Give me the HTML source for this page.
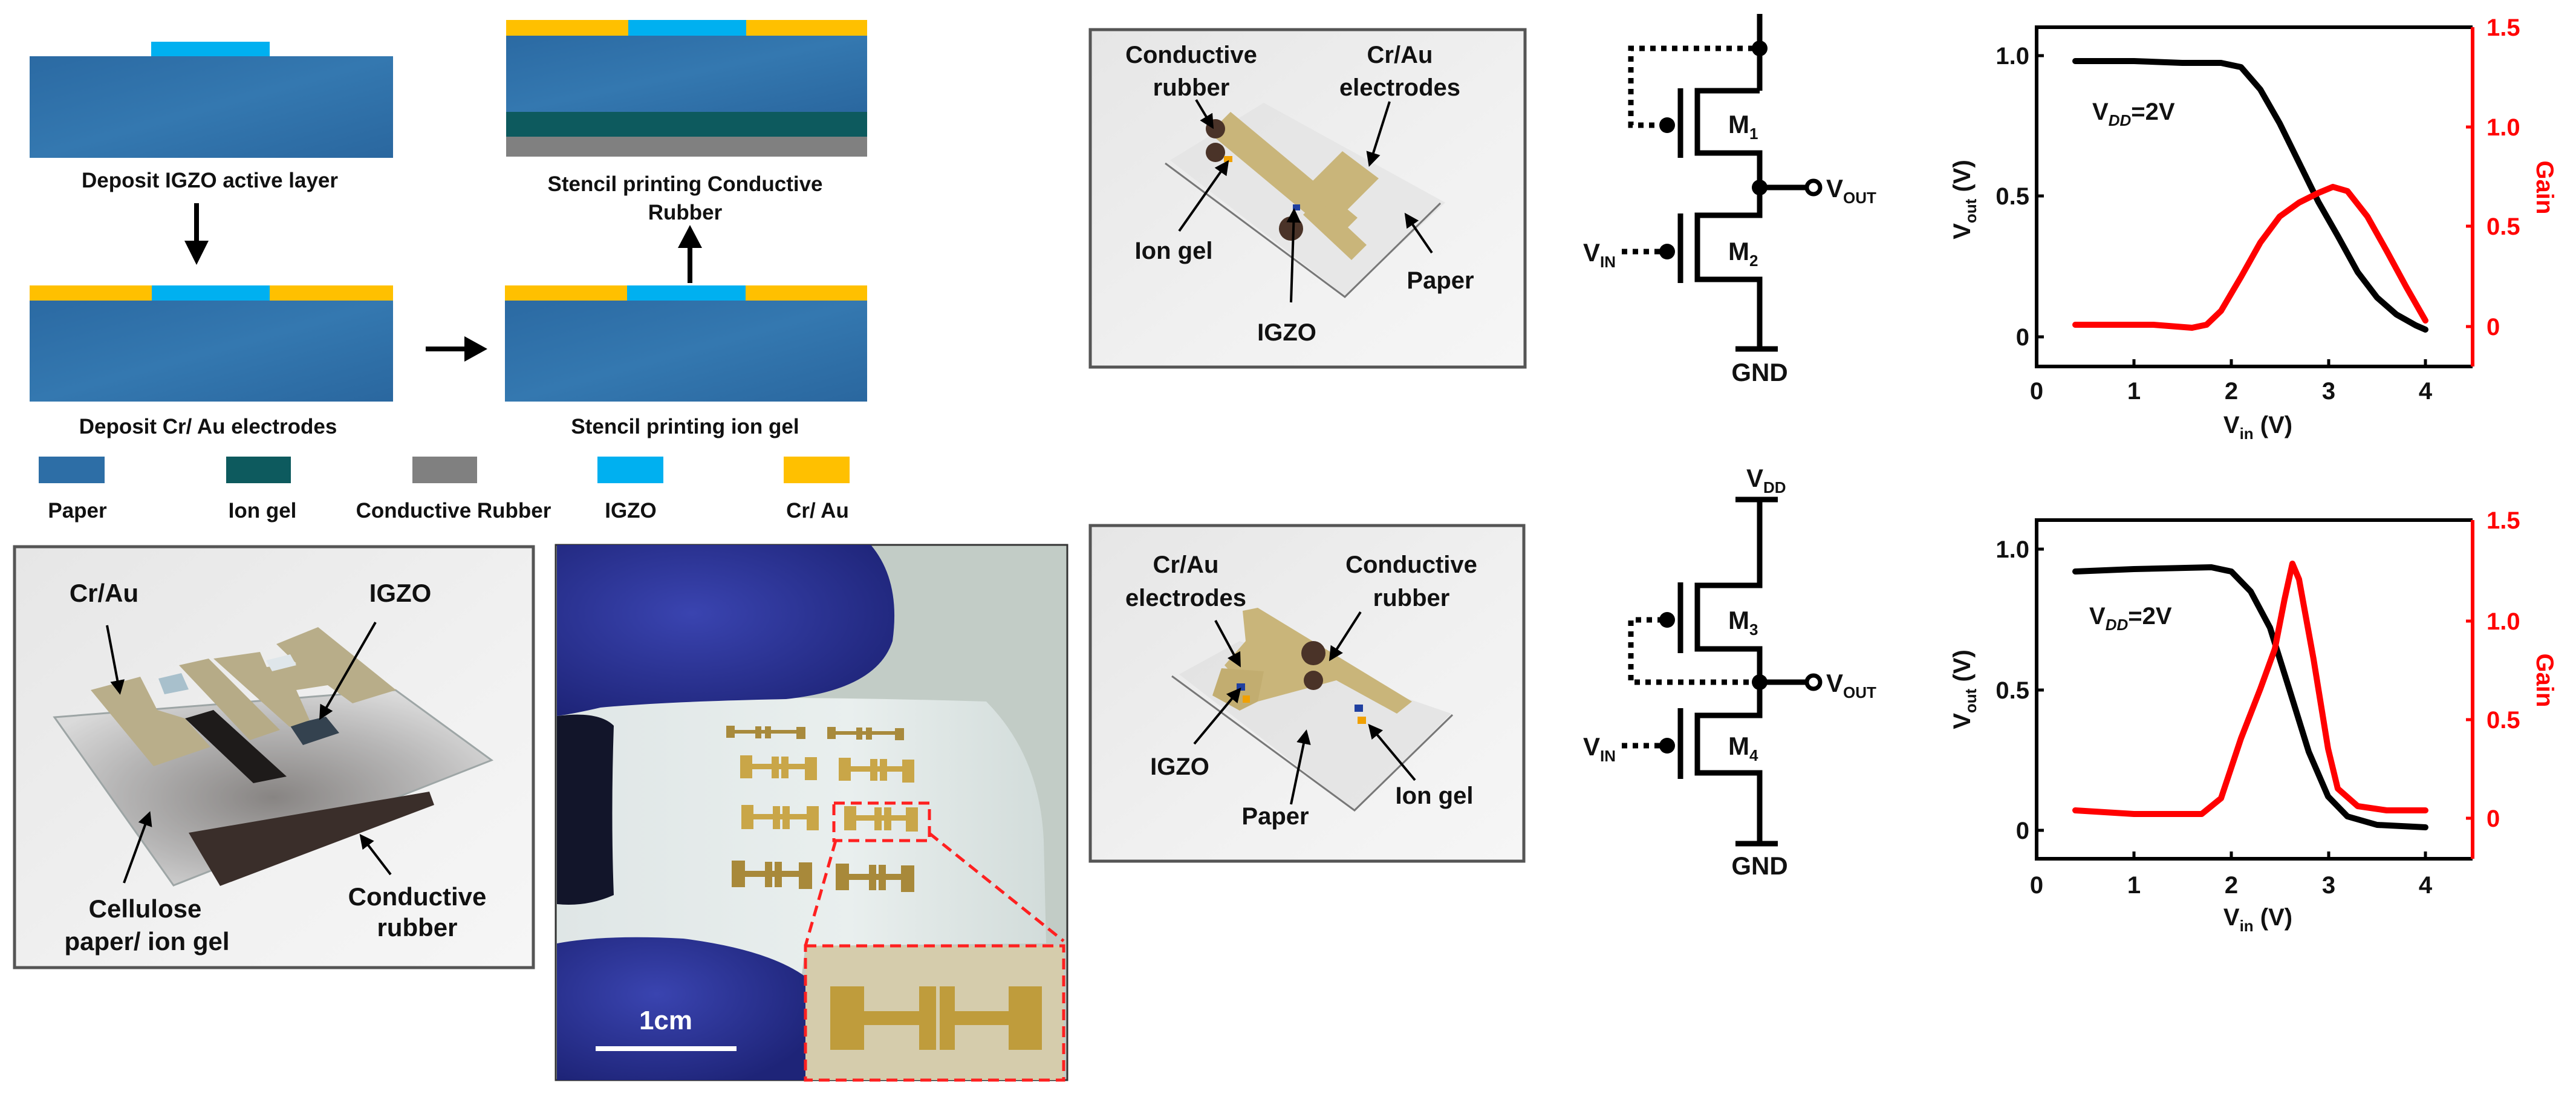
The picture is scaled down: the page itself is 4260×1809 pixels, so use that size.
<!DOCTYPE html>
<html><head><meta charset="utf-8"><style>
html,body{margin:0;padding:0;background:#fff;}
svg{display:block;font-family:"Liberation Sans",Arial,sans-serif;font-weight:bold;}
</style></head><body>
<svg width="4260" height="1809" viewBox="0 0 4260 1809" xmlns="http://www.w3.org/2000/svg">
<defs>
<linearGradient id="pap" x1="0" y1="0" x2="1" y2="1">
<stop offset="0" stop-color="#2b6aa3"/><stop offset="0.5" stop-color="#3478b0"/><stop offset="1" stop-color="#2a679f"/>
</linearGradient>
<linearGradient id="boxbg" x1="0" y1="0" x2="1" y2="1">
<stop offset="0" stop-color="#e6e6e6"/><stop offset="0.6" stop-color="#f1f1f1"/><stop offset="1" stop-color="#f6f6f6"/>
</linearGradient>
<radialGradient id="glove" cx="0.4" cy="0.4" r="0.7">
<stop offset="0" stop-color="#3a44b0"/><stop offset="1" stop-color="#1e2478"/>
</radialGradient>
<linearGradient id="roll" x1="0" y1="0" x2="1" y2="0">
<stop offset="0" stop-color="#dfe6e6"/><stop offset="0.6" stop-color="#e9efee"/><stop offset="1" stop-color="#d2dcda"/>
</linearGradient>
<radialGradient id="plate" cx="0.5" cy="0.55" r="0.6">
<stop offset="0" stop-color="#6e6a68"/><stop offset="0.6" stop-color="#a9a8a8"/><stop offset="1" stop-color="#d6d6d6"/>
</radialGradient>
<marker id="ah" markerWidth="6" markerHeight="6" refX="5" refY="3" orient="auto" markerUnits="strokeWidth"><path d="M0,0 L6,3 L0,6 Z" fill="#000"/></marker>
</defs>

<!-- ===== Process flow ===== -->
<g font-size="35" text-anchor="middle" fill="#111">
<rect x="250" y="69" width="196" height="24" fill="#00b0f0"/>
<rect x="49" y="93" width="601" height="168" fill="url(#pap)"/>
<text x="347" y="310">Deposit IGZO active layer</text>
<rect x="837" y="33" width="202" height="26" fill="#ffc000"/>
<rect x="1039" y="33" width="195" height="26" fill="#00b0f0"/>
<rect x="1234" y="33" width="200" height="26" fill="#ffc000"/>
<rect x="837" y="59" width="597" height="126" fill="url(#pap)"/>
<rect x="837" y="185" width="597" height="41" fill="#0d5a5e"/>
<rect x="837" y="226" width="597" height="33" fill="#808080"/>
<text x="1133" y="316">Stencil printing Conductive</text>
<text x="1133" y="363">Rubber</text>
<rect x="49" y="472" width="202" height="25" fill="#ffc000"/>
<rect x="251" y="472" width="195" height="25" fill="#00b0f0"/>
<rect x="446" y="472" width="204" height="25" fill="#ffc000"/>
<rect x="49" y="497" width="601" height="167" fill="url(#pap)"/>
<text x="344" y="717">Deposit Cr/ Au electrodes</text>
<rect x="835" y="472" width="202" height="25" fill="#ffc000"/>
<rect x="1037" y="472" width="196" height="25" fill="#00b0f0"/>
<rect x="1233" y="472" width="201" height="25" fill="#ffc000"/>
<rect x="835" y="497" width="599" height="167" fill="url(#pap)"/>
<text x="1133" y="717">Stencil printing ion gel</text>
<rect x="64" y="755" width="109" height="44" fill="#2d6ea6"/>
<rect x="374" y="755" width="107" height="44" fill="#0d5a5e"/>
<rect x="682" y="755" width="107" height="44" fill="#808080"/>
<rect x="988" y="755" width="109" height="44" fill="#00b0f0"/>
<rect x="1296" y="755" width="109" height="44" fill="#ffc000"/>
<text x="128" y="856">Paper</text>
<text x="434" y="856">Ion gel</text>
<text x="750" y="856">Conductive Rubber</text>
<text x="1043" y="856">IGZO</text>
<text x="1352" y="856">Cr/ Au</text>
</g>
<line x1="325" y1="336" x2="325" y2="400" stroke="#000" stroke-width="8"/>
<polygon points="305,398 345,398 325,438" fill="#000"/>
<line x1="1141" y1="468" x2="1141" y2="408" stroke="#000" stroke-width="8"/>
<polygon points="1121,410 1161,410 1141,372" fill="#000"/>
<line x1="704" y1="577" x2="770" y2="577" stroke="#000" stroke-width="8"/>
<polygon points="768,556 768,598 806,577" fill="#000"/>

<!-- ===== Box A: 3D device ===== -->
<rect x="24" y="904" width="858" height="696" fill="url(#boxbg)" stroke="#555" stroke-width="5"/>
<polygon points="90,1186 654,1141 813,1257 287,1464" fill="url(#plate)" opacity="0.8" stroke="#8a9494" stroke-width="3"/>
<polygon points="312,1377 710,1309 718,1331 364,1465" fill="#3a2e2a"/>
<polygon points="306,1188 353,1174 474,1284 419,1295" fill="#1e1b1a"/>
<polygon points="479,1199 539,1185 561,1212 501,1232" fill="#34424f"/>
<polygon points="150,1141 232,1119 260,1174 306,1188 348,1235 254,1267" fill="#b9ae8a"/>
<polygon points="296,1100 345,1089 463,1207 413,1224" fill="#b6ab87"/>
<polygon points="353,1089 430,1078 441,1103 490,1097 457,1065 526,1037 655,1141 583,1163 542,1133 490,1141 512,1191 479,1202" fill="#b8ad89"/>
<polygon points="262,1122 300,1113 312,1140 272,1148" fill="#a8c0cc"/>
<polygon points="440,1092 480,1082 490,1100 450,1110" fill="#dfe6ea"/>
<g stroke="#000" stroke-width="4" fill="none" marker-end="url(#ah)">
<line x1="177" y1="1034" x2="198" y2="1145"/>
<line x1="621" y1="1029" x2="530" y2="1187"/>
<line x1="205" y1="1460" x2="247" y2="1345"/>
<line x1="646" y1="1446" x2="597" y2="1382"/>
</g>
<g font-size="42" text-anchor="middle" fill="#111">
<text x="172" y="995">Cr/Au</text>
<text x="662" y="995">IGZO</text>
<text x="240" y="1517">Cellulose</text>
<text x="243" y="1571">paper/ ion gel</text>
<text x="690" y="1497">Conductive</text>
<text x="690" y="1548">rubber</text>
</g>

<!-- ===== Photo ===== -->
<rect x="919" y="901" width="846" height="885" fill="#c2ccc6" stroke="#333" stroke-width="3"/>
<path d="M993,1156 Q1300,1150 1631,1160 Q1720,1250 1726,1390 L1730,1560 L1332,1564 L1326,1611 Q1200,1540 1000,1560 L921,1560 L921,1184 Z" fill="url(#roll)"/>
<path d="M921,1184 Q990,1175 1015,1200 Q1010,1350 1015,1480 Q970,1500 921,1495 Z" fill="#12152a"/>
<path d="M921,901 L1440,901 Q1490,960 1476,1060 Q1450,1140 1300,1156 Q1100,1160 993,1170 Q950,1180 921,1184 Z" fill="url(#glove)"/>
<path d="M921,1560 Q1000,1545 1130,1552 Q1270,1570 1332,1615 L1332,1786 L921,1786 Z" fill="url(#glove)"/>
<g fill="#a88a3c">
<g transform="translate(1201,1200)"><rect x="0" y="0" width="14" height="20"/><rect x="0" y="7" width="131" height="6"/><rect x="48" y="1" width="10" height="20"/><rect x="64" y="1" width="10" height="20"/><rect x="116" y="2" width="15" height="20"/></g>
<g transform="translate(1368,1202)"><rect x="0" y="0" width="14" height="20"/><rect x="0" y="7" width="127" height="6"/><rect x="48" y="1" width="10" height="20"/><rect x="64" y="1" width="10" height="20"/><rect x="112" y="2" width="15" height="20"/></g>
</g>
<g fill="#c9a648">
<g transform="translate(1224,1249)"><rect x="0" y="0" width="20" height="38"/><rect x="0" y="14" width="127" height="9"/><rect x="52" y="2" width="12" height="36"/><rect x="68" y="2" width="12" height="36"/><rect x="107" y="3" width="20" height="38"/></g>
<g transform="translate(1387,1253)"><rect x="0" y="0" width="20" height="38"/><rect x="0" y="14" width="125" height="9"/><rect x="52" y="2" width="12" height="36"/><rect x="68" y="2" width="12" height="36"/><rect x="105" y="3" width="20" height="38"/></g>
<g transform="translate(1226,1331)"><rect x="0" y="0" width="20" height="40"/><rect x="0" y="15" width="128" height="9"/><rect x="52" y="2" width="12" height="38"/><rect x="68" y="2" width="12" height="38"/><rect x="108" y="2" width="20" height="40"/></g>
<g transform="translate(1396,1333)"><rect x="0" y="0" width="20" height="40"/><rect x="0" y="15" width="122" height="9"/><rect x="50" y="2" width="12" height="38"/><rect x="66" y="2" width="12" height="38"/><rect x="102" y="2" width="20" height="40"/></g>
</g>
<g fill="#a8893a">
<g transform="translate(1210,1423)"><rect x="0" y="0" width="22" height="44"/><rect x="0" y="17" width="133" height="10"/><rect x="55" y="2" width="12" height="42"/><rect x="71" y="2" width="12" height="42"/><rect x="111" y="3" width="22" height="44"/></g>
<g transform="translate(1382,1428)"><rect x="0" y="0" width="22" height="44"/><rect x="0" y="17" width="130" height="10"/><rect x="55" y="2" width="12" height="42"/><rect x="71" y="2" width="12" height="42"/><rect x="108" y="3" width="22" height="44"/></g>
</g>
<rect x="1332" y="1564" width="427" height="222" fill="#d5ccac"/>
<g fill="#bf9c3c">
<rect x="1373" y="1631" width="56" height="105"/><rect x="1429" y="1672" width="91" height="23"/>
<rect x="1520" y="1631" width="28" height="105"/><rect x="1554" y="1631" width="25" height="105"/>
<rect x="1579" y="1672" width="89" height="23"/><rect x="1668" y="1631" width="55" height="105"/>
</g>
<g stroke="#ff2020" stroke-width="5" stroke-dasharray="18,10" fill="none">
<rect x="1379" y="1328" width="158" height="62"/>
<line x1="1537" y1="1378" x2="1759" y2="1556"/>
<line x1="1382" y1="1390" x2="1332" y2="1564"/>
<rect x="1332" y="1564" width="427" height="222"/>
</g>
<line x1="985" y1="1734" x2="1218" y2="1734" stroke="#fff" stroke-width="8"/>
<text x="1101" y="1702" font-size="44" fill="#fff" text-anchor="middle">1cm</text>

<!-- ===== Box B1 ===== -->
<rect x="1803" y="49" width="719" height="558" fill="url(#boxbg)" stroke="#555" stroke-width="5"/>
<polygon points="1935,265 2090,170 2390,335 2225,490" fill="#e2e2e2" opacity="0.7"/>
<polyline points="1927,270 2224,491 2382,336" fill="none" stroke="#777" stroke-width="3"/>
<polygon points="2000,220 2035,185 2245,360 2210,395" fill="#c9b57a"/>
<polygon points="2150,320 2220,250 2280,295 2210,365" fill="#c9b57a"/>
<polygon points="2180,330 2260,405 2235,430 2155,355" fill="#c9b57a"/>
<circle cx="2010" cy="213" r="16" fill="#4a3328"/>
<circle cx="2010" cy="252" r="16" fill="#4a3328"/>
<circle cx="2135" cy="378" r="20" fill="#4a3328"/>
<rect x="2024" y="258" width="14" height="10" fill="#f0a000"/>
<rect x="2138" y="338" width="12" height="10" fill="#2040a0"/>
<g stroke="#000" stroke-width="4" fill="none" marker-end="url(#ah)">
<line x1="1978" y1="165" x2="2005" y2="210"/>
<line x1="2298" y1="168" x2="2265" y2="272"/>
<line x1="1950" y1="382" x2="2030" y2="268"/>
<line x1="2135" y1="500" x2="2140" y2="348"/>
<line x1="2368" y1="418" x2="2325" y2="355"/>
</g>
<g font-size="40" text-anchor="middle" fill="#111">
<text x="1970" y="104">Conductive</text>
<text x="1970" y="158">rubber</text>
<text x="2315" y="104">Cr/Au</text>
<text x="2315" y="158">electrodes</text>
<text x="1941" y="428">Ion gel</text>
<text x="2382" y="477">Paper</text>
<text x="2128" y="563">IGZO</text>
</g>

<!-- ===== Box B2 ===== -->
<rect x="1803" y="869" width="717" height="555" fill="url(#boxbg)" stroke="#555" stroke-width="5"/>
<polygon points="1950,1115 2050,1060 2400,1180 2240,1340" fill="#e0e0e0" opacity="0.7"/>
<polyline points="1938,1118 2240,1340 2402,1182" fill="none" stroke="#777" stroke-width="3"/>
<polygon points="2055,1010 2080,1005 2335,1160 2310,1180 2210,1125 2080,1160 2025,1100 2060,1060" fill="#c9b57a"/>
<polygon points="2020,1105 2090,1110 2080,1160 2050,1175 2005,1150" fill="#c2ad70"/>
<circle cx="2172" cy="1080" r="20" fill="#4a3328"/>
<circle cx="2172" cy="1125" r="16" fill="#4a3328"/>
<rect x="2045" y="1130" width="14" height="12" fill="#2040a0"/>
<rect x="2055" y="1150" width="12" height="12" fill="#f0a000"/>
<rect x="2240" y="1165" width="14" height="12" fill="#2040a0"/>
<rect x="2245" y="1185" width="14" height="12" fill="#f0a000"/>
<g stroke="#000" stroke-width="4" fill="none" marker-end="url(#ah)">
<line x1="2010" y1="1026" x2="2050" y2="1100"/>
<line x1="2250" y1="1012" x2="2200" y2="1090"/>
<line x1="1975" y1="1230" x2="2050" y2="1140"/>
<line x1="2135" y1="1330" x2="2160" y2="1210"/>
<line x1="2340" y1="1290" x2="2265" y2="1200"/>
</g>
<g font-size="40" text-anchor="middle" fill="#111">
<text x="1961" y="947">Cr/Au</text>
<text x="1961" y="1002">electrodes</text>
<text x="2334" y="947">Conductive</text>
<text x="2334" y="1002">rubber</text>
<text x="1951" y="1281">IGZO</text>
<text x="2109" y="1363">Paper</text>
<text x="2372" y="1329">Ion gel</text>
</g>

<!-- ===== Circuit 1 ===== -->
<g stroke="#000" stroke-width="9" fill="none">
<line x1="2910" y1="23" x2="2910" y2="150"/>
<polyline points="2910,150 2807,150 2807,253 2910,253 2910,356 2807,356 2807,462 2910,462 2910,577"/>
<line x1="2779" y1="146" x2="2779" y2="261"/>
<line x1="2779" y1="353" x2="2779" y2="468"/>
<line x1="2870" y1="577" x2="2940" y2="577"/>
<line x1="2910" y1="310" x2="2990" y2="310"/>
</g>
<g stroke="#000" stroke-width="9" fill="none" stroke-dasharray="9,9">
<polyline points="2900,80 2697,80 2697,207 2750,207"/>
<line x1="2682" y1="416" x2="2750" y2="416"/>
</g>
<circle cx="2910" cy="80" r="13"/><circle cx="2910" cy="310" r="13"/>
<circle cx="2757" cy="207" r="13"/><circle cx="2757" cy="416" r="13"/>
<circle cx="2999" cy="310" r="11" fill="#fff" stroke="#000" stroke-width="7"/>
<g font-size="42" fill="#111">
<text x="2858" y="220">M<tspan font-size="26" dy="10">1</tspan></text>
<text x="2858" y="430">M<tspan font-size="26" dy="10">2</tspan></text>
<text x="3020" y="326">V<tspan font-size="26" dy="10">OUT</tspan></text>
<text x="2618" y="432">V<tspan font-size="26" dy="10">IN</tspan></text>
<text x="2910" y="630" text-anchor="middle">GND</text>
</g>

<!-- ===== Circuit 2 ===== -->
<g stroke="#000" stroke-width="9" fill="none">
<line x1="2870" y1="826" x2="2940" y2="826"/>
<polyline points="2910,826 2910,968 2807,968 2807,1073 2910,1073 2910,1183 2807,1183 2807,1278 2910,1278 2910,1395"/>
<line x1="2779" y1="963" x2="2779" y2="1080"/>
<line x1="2779" y1="1171" x2="2779" y2="1288"/>
<line x1="2870" y1="1395" x2="2940" y2="1395"/>
<line x1="2910" y1="1128" x2="2990" y2="1128"/>
</g>
<g stroke="#000" stroke-width="9" fill="none" stroke-dasharray="9,9">
<polyline points="2750,1025 2697,1025 2697,1128 2900,1128"/>
<line x1="2682" y1="1233" x2="2750" y2="1233"/>
</g>
<circle cx="2910" cy="1128" r="13"/>
<circle cx="2757" cy="1025" r="13"/><circle cx="2757" cy="1233" r="13"/>
<circle cx="2999" cy="1128" r="11" fill="#fff" stroke="#000" stroke-width="7"/>
<g font-size="42" fill="#111">
<text x="2888" y="805">V<tspan font-size="26" dy="10">DD</tspan></text>
<text x="2858" y="1040">M<tspan font-size="26" dy="10">3</tspan></text>
<text x="2858" y="1248">M<tspan font-size="26" dy="10">4</tspan></text>
<text x="3020" y="1144">V<tspan font-size="26" dy="10">OUT</tspan></text>
<text x="2618" y="1249">V<tspan font-size="26" dy="10">IN</tspan></text>
<text x="2910" y="1446" text-anchor="middle">GND</text>
</g>

<!-- ===== Plot 1 ===== -->
<g>
<polyline points="4089,45 3368,45 3368,606 4089,606" fill="none" stroke="#000" stroke-width="6"/>
<line x1="4089" y1="45" x2="4089" y2="606" stroke="#f00" stroke-width="6"/>
<g stroke="#000" stroke-width="5">
<line x1="3368" y1="92" x2="3380" y2="92"/><line x1="3368" y1="324" x2="3380" y2="324"/><line x1="3368" y1="557" x2="3380" y2="557"/>
<line x1="3529" y1="606" x2="3529" y2="594"/><line x1="3690" y1="606" x2="3690" y2="594"/><line x1="3851" y1="606" x2="3851" y2="594"/><line x1="4011" y1="606" x2="4011" y2="594"/>
</g>
<g stroke="#f00" stroke-width="5">
<line x1="4089" y1="210" x2="4078" y2="210"/><line x1="4089" y1="374" x2="4078" y2="374"/><line x1="4089" y1="540" x2="4078" y2="540"/>
</g>
<polyline fill="none" stroke="#000" stroke-width="10" stroke-linejoin="round" stroke-linecap="round" points="3432,101 3529,101 3609,104 3673,104 3706,111 3738,148 3770,204 3802,269 3834,334 3866,390 3899,450 3931,492 3963,520 3995,538 4011,545"/>
<polyline fill="none" stroke="#f00" stroke-width="10" stroke-linejoin="round" stroke-linecap="round" points="3432,537 3561,537 3625,542 3649,537 3673,514 3706,458 3738,401 3770,358 3802,335 3834,319 3858,309 3882,316 3915,358 3947,415 3979,474 4011,530"/>
<g font-size="40" fill="#111" text-anchor="end">
<text x="3356" y="106">1.0</text><text x="3356" y="338">0.5</text><text x="3356" y="571">0</text>
</g>
<g font-size="40" fill="#111" text-anchor="middle">
<text x="3368" y="660">0</text><text x="3529" y="660">1</text><text x="3690" y="660">2</text><text x="3851" y="660">3</text><text x="4011" y="660">4</text>
<text x="3734" y="716">V<tspan font-size="26" dy="10">in</tspan><tspan dy="-10"> (V)</tspan></text>
</g>
<g font-size="40" fill="#f00">
<text x="4112" y="59">1.5</text><text x="4112" y="224">1.0</text><text x="4112" y="388">0.5</text><text x="4112" y="554">0</text>
</g>
<text x="3460" y="198" font-size="40" fill="#111">V<tspan font-size="26" dy="10" font-style="italic">DD</tspan><tspan dy="-10">=2V</tspan></text>
<text transform="translate(3258,330) rotate(-90)" font-size="40" fill="#111" text-anchor="middle">V<tspan font-size="26" dy="10">out</tspan><tspan dy="-10"> (V)</tspan></text>
<text transform="translate(4195,310) rotate(90)" font-size="40" fill="#f00" text-anchor="middle">Gain</text>
</g>

<!-- ===== Plot 2 ===== -->
<g>
<polyline points="4089,860 3368,860 3368,1420 4089,1420" fill="none" stroke="#000" stroke-width="6"/>
<line x1="4089" y1="860" x2="4089" y2="1420" stroke="#f00" stroke-width="6"/>
<g stroke="#000" stroke-width="5">
<line x1="3368" y1="908" x2="3380" y2="908"/><line x1="3368" y1="1141" x2="3380" y2="1141"/><line x1="3368" y1="1373" x2="3380" y2="1373"/>
<line x1="3529" y1="1420" x2="3529" y2="1408"/><line x1="3690" y1="1420" x2="3690" y2="1408"/><line x1="3851" y1="1420" x2="3851" y2="1408"/><line x1="4011" y1="1420" x2="4011" y2="1408"/>
</g>
<g stroke="#f00" stroke-width="5">
<line x1="4089" y1="1027" x2="4078" y2="1027"/><line x1="4089" y1="1190" x2="4078" y2="1190"/><line x1="4089" y1="1353" x2="4078" y2="1353"/>
</g>
<polyline fill="none" stroke="#000" stroke-width="10" stroke-linejoin="round" stroke-linecap="round" points="3432,945 3529,941 3657,938 3690,945 3722,978 3754,1038 3786,1140 3818,1243 3850,1317 3882,1350 3931,1364 4011,1368"/>
<polyline fill="none" stroke="#f00" stroke-width="10" stroke-linejoin="round" stroke-linecap="round" points="3432,1340 3529,1346 3641,1346 3673,1320 3706,1221 3738,1139 3762,1073 3778,991 3791,932 3802,958 3826,1090 3850,1238 3866,1304 3899,1333 3947,1340 4011,1340"/>
<g font-size="40" fill="#111" text-anchor="end">
<text x="3356" y="922">1.0</text><text x="3356" y="1155">0.5</text><text x="3356" y="1387">0</text>
</g>
<g font-size="40" fill="#111" text-anchor="middle">
<text x="3368" y="1477">0</text><text x="3529" y="1477">1</text><text x="3690" y="1477">2</text><text x="3851" y="1477">3</text><text x="4011" y="1477">4</text>
<text x="3734" y="1530">V<tspan font-size="26" dy="10">in</tspan><tspan dy="-10"> (V)</tspan></text>
</g>
<g font-size="40" fill="#f00">
<text x="4112" y="874">1.5</text><text x="4112" y="1041">1.0</text><text x="4112" y="1204">0.5</text><text x="4112" y="1367">0</text>
</g>
<text x="3455" y="1032" font-size="40" fill="#111">V<tspan font-size="26" dy="10" font-style="italic">DD</tspan><tspan dy="-10">=2V</tspan></text>
<text transform="translate(3258,1140) rotate(-90)" font-size="40" fill="#111" text-anchor="middle">V<tspan font-size="26" dy="10">out</tspan><tspan dy="-10"> (V)</tspan></text>
<text transform="translate(4195,1125) rotate(90)" font-size="40" fill="#f00" text-anchor="middle">Gain</text>
</g>
</svg>
</body></html>
